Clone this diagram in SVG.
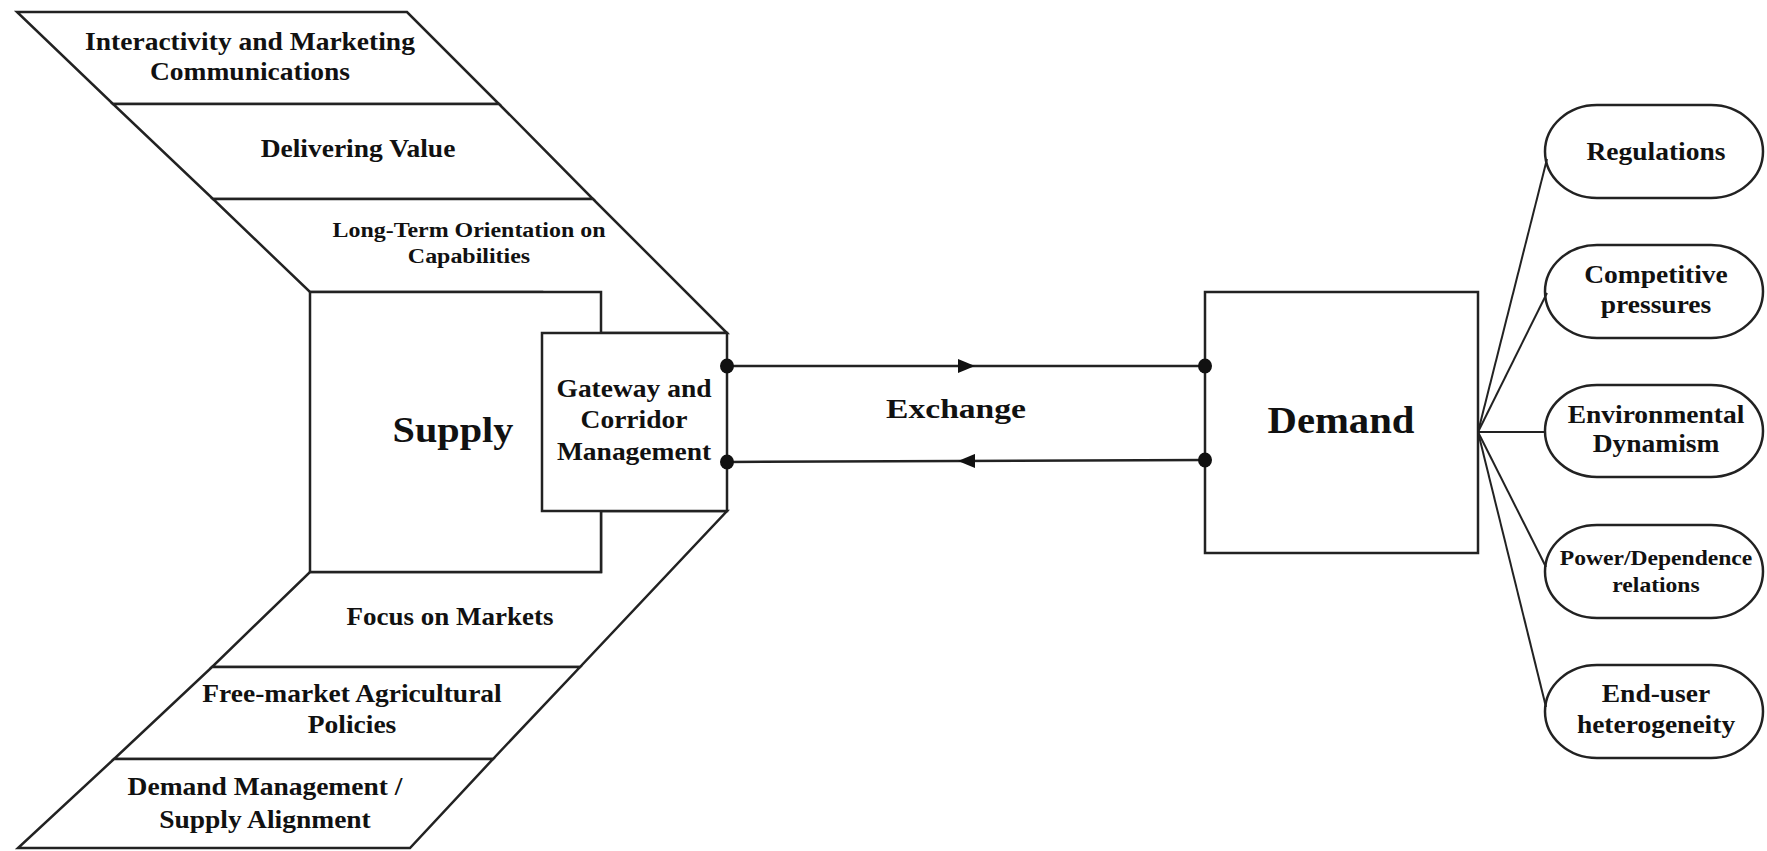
<svg xmlns="http://www.w3.org/2000/svg" width="1767" height="851" viewBox="0 0 1767 851">
<style>
.sh{fill:#fff;stroke:#222;stroke-width:2.5;stroke-linejoin:miter}
.ln{fill:none;stroke:#222;stroke-width:2.5}
.fan{fill:none;stroke:#222;stroke-width:2}
text{font-family:"Liberation Serif","Times New Roman",serif;font-weight:bold;fill:#111;text-anchor:middle}
.t25{font-size:25px}
.t21{font-size:21px}
.t20{font-size:20px}
</style>
<defs>
<marker id="arr" viewBox="0 0 17 14" refX="17" refY="7" markerWidth="17" markerHeight="14" markerUnits="userSpaceOnUse" orient="auto"><path d="M0,0 L17,7 L0,14 z" fill="#111"/></marker>
<marker id="dot" viewBox="-8 -8 16 16" refX="0" refY="0" markerWidth="16" markerHeight="16" markerUnits="userSpaceOnUse"><ellipse rx="7" ry="7.5" fill="#111"/></marker>
</defs>
<rect width="1767" height="851" fill="#fff"/>

<g id="band-interactivity">
<polygon class="sh" points="17,12 407,12 499,104 113,104"/>
<text class="t25" transform="translate(250,50) scale(1.1,1)"><tspan x="0" y="0">Interactivity and Marketing</tspan><tspan x="0" y="30">Communications</tspan></text>
</g>
<g id="band-delivering">
<polygon class="sh" points="113,104 499,104 593,199 213,199"/>
<text class="t25" transform="translate(358,157) scale(1.1,1)">Delivering Value</text>
</g>
<g id="band-longterm">
<polygon class="sh" points="213,199 593,199 727,333 542,333 542,292 310,292"/>
<text class="t21" transform="translate(469,237) scale(1.14,1)"><tspan x="0" y="0">Long-Term Orientation on</tspan><tspan x="0" y="26">Capabilities</tspan></text>
</g>
<g id="band-focus">
<polygon class="sh" points="310,572 601,572 601,511 727,511 580,667 212,667"/>
<text class="t25" transform="translate(450,625) scale(1.08,1)">Focus on Markets</text>
</g>
<g id="band-freemarket">
<polygon class="sh" points="212,667 580,667 493,759 114,759"/>
<text class="t25" transform="translate(352,702) scale(1.1,1)"><tspan x="0" y="0">Free-market Agricultural</tspan><tspan x="0" y="31">Policies</tspan></text>
</g>
<g id="band-demandmgmt">
<polygon class="sh" points="114,759 493,759 410,848 18,848"/>
<text class="t25" transform="translate(265,795) scale(1.1,1)"><tspan x="0" y="0">Demand Management /</tspan><tspan x="0" y="33">Supply Alignment</tspan></text>
</g>

<g id="supply">
<rect class="sh" x="310" y="292" width="291" height="280"/>
<text style="font-size:36.6px" transform="translate(453,442) scale(1.1,1)">Supply</text>
</g>
<g id="gateway">
<rect class="sh" x="542" y="333" width="185" height="178"/>
<text class="t25" transform="translate(634,397) scale(1.1,1)"><tspan x="0" y="0">Gateway and</tspan><tspan x="0" y="31">Corridor</tspan><tspan x="0" y="63">Management</tspan></text>
</g>

<g id="exchange">
<text style="font-size:28px" transform="translate(956,418) scale(1.2,1)">Exchange</text>
</g>

<g id="demand">
<rect class="sh" x="1205" y="292" width="273" height="261"/>
<text style="font-size:37px" transform="translate(1341,433) scale(1.1,1)">Demand</text>
</g>

<g id="regulations">
<rect class="sh" x="1545" y="105" width="218" height="93" rx="52" ry="46.5"/>
<text class="t25" transform="translate(1656,160) scale(1.1,1)">Regulations</text>
</g>
<g id="competitive">
<rect class="sh" x="1545" y="245" width="218" height="93" rx="52" ry="46.5"/>
<text class="t25" transform="translate(1656,283) scale(1.1,1)"><tspan x="0" y="0">Competitive</tspan><tspan x="0" y="30">pressures</tspan></text>
</g>
<g id="environmental">
<rect class="sh" x="1545" y="385" width="218" height="92" rx="52" ry="46"/>
<text class="t25" transform="translate(1656,423) scale(1.1,1)"><tspan x="0" y="0">Environmental</tspan><tspan x="0" y="29">Dynamism</tspan></text>
</g>
<g id="power">
<rect class="sh" x="1545" y="525" width="218" height="93" rx="52" ry="46.5"/>
<text class="t20" transform="translate(1656,565) scale(1.18,1)"><tspan x="0" y="0">Power/Dependence</tspan><tspan x="0" y="27">relations</tspan></text>
</g>
<g id="enduser">
<rect class="sh" x="1545" y="665" width="218" height="93" rx="52" ry="46.5"/>
<text class="t25" transform="translate(1656,702) scale(1.1,1)"><tspan x="0" y="0">End-user</tspan><tspan x="0" y="31">heterogeneity</tspan></text>
</g>

<g id="connectors">
<polyline class="ln" points="727,366 975,366 1205,366" marker-start="url(#dot)" marker-mid="url(#arr)" marker-end="url(#dot)"/>
<polyline class="ln" points="1205,460 958,461 727,462" marker-start="url(#dot)" marker-mid="url(#arr)" marker-end="url(#dot)"/>
<line class="fan" x1="1478" y1="432" x2="1547" y2="159"/>
<line class="fan" x1="1478" y1="432" x2="1547" y2="293"/>
<line class="fan" x1="1478" y1="432" x2="1545" y2="432"/>
<line class="fan" x1="1478" y1="432" x2="1546" y2="567"/>
<line class="fan" x1="1478" y1="432" x2="1546" y2="707"/>
</g>
</svg>
